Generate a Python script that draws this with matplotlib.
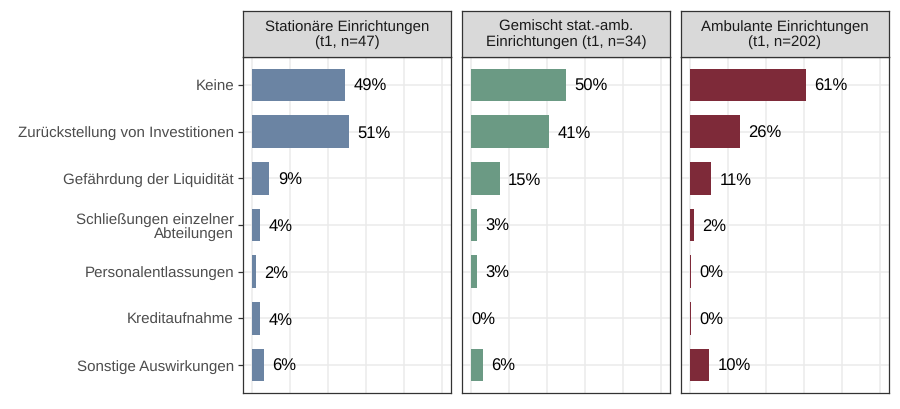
import numpy as np
import matplotlib.pyplot as plt

plt.rcParams['font.family'] = ['Liberation Sans', 'DejaVu Sans']
plt.rcParams['text.hinting'] = 'no_hinting'

categories = ['Keine', 'Zurückstellung von Investitionen', 'Gefährdung der Liquidität',
              'Schließungen einzelner\nAbteilungen', 'Personalentlassungen',
              'Kreditaufnahme', 'Sonstige Auswirkungen']
facets = ['Stationäre Einrichtungen\n(t1, n=47)',
          'Gemischt stat.-amb.\nEinrichtungen (t1, n=34)',
          'Ambulante Einrichtungen\n(t1, n=202)']
stationaer = [49, 51, 9, 4, 2, 4, 6]
gemischt = [50, 41, 15, 3, 3, 0, 6]
ambulant = [61, 26, 11, 2, 0.3, 0.3, 10]
colors = ['#6b84a3', '#6b9a84', '#7e2a39']

fig = plt.figure(figsize=(9, 4.09), dpi=100)
W, H = 900, 409
lefts = [243, 462, 681]
pw = 208
top, bot, strip_top = 57, 393, 11

y = np.arange(len(categories))[::-1] + 1
for i, (vals, col, title) in enumerate(zip([stationaer, gemischt, ambulant], colors, facets)):
    ax = fig.add_axes([lefts[i] / W, 1 - bot / H, pw / W, (bot - top) / H])
    v = np.array(vals) / 100
    ax.set_xlim(-0.05, 1.05)
    ax.set_ylim(0.4, 7.6)
    for gx in np.arange(0, 1.01, 0.2):
        ax.axvline(gx, color='#ebebeb', lw=1.1, zorder=0)
    for gy in y:
        ax.axhline(gy, color='#ebebeb', lw=1.1, zorder=0)
    ax.barh(y, v, height=0.7, color=col, zorder=2)
    for yy, vv in zip(y, v):
        off = 6 if vv > 0 else 0
        ax.annotate(f'{round(vv * 100):.0f}%', (vv, yy), xytext=(off, 0),
                    textcoords='offset points', va='center_baseline', ha='left',
                    fontsize=12, color='black')
    ax.set_xticks([])
    ax.set_yticks(y)
    if i == 0:
        ax.set_yticklabels(categories, fontsize=10.9, color='#4d4d4d', linespacing=1.05)
    else:
        ax.set_yticklabels([])
    ax.tick_params(axis='y', length=3.5, color='#333333', width=0.9,
                   left=(i == 0), pad=3)
    for s in ax.spines.values():
        s.set_color('#333333')
        s.set_linewidth(0.9)

    sax = fig.add_axes([lefts[i] / W, 1 - top / H, pw / W, (top - strip_top) / H])
    sax.set_facecolor('#d9d9d9')
    sax.set_xticks([])
    sax.set_yticks([])
    for s in sax.spines.values():
        s.set_color('#333333')
        s.set_linewidth(0.9)
    sax.text(0.5, 0.48, title, ha='center', va='center', fontsize=10.8,
             color='#1a1a1a', transform=sax.transAxes, linespacing=1.1)

fig.savefig('out.png', dpi=100)
